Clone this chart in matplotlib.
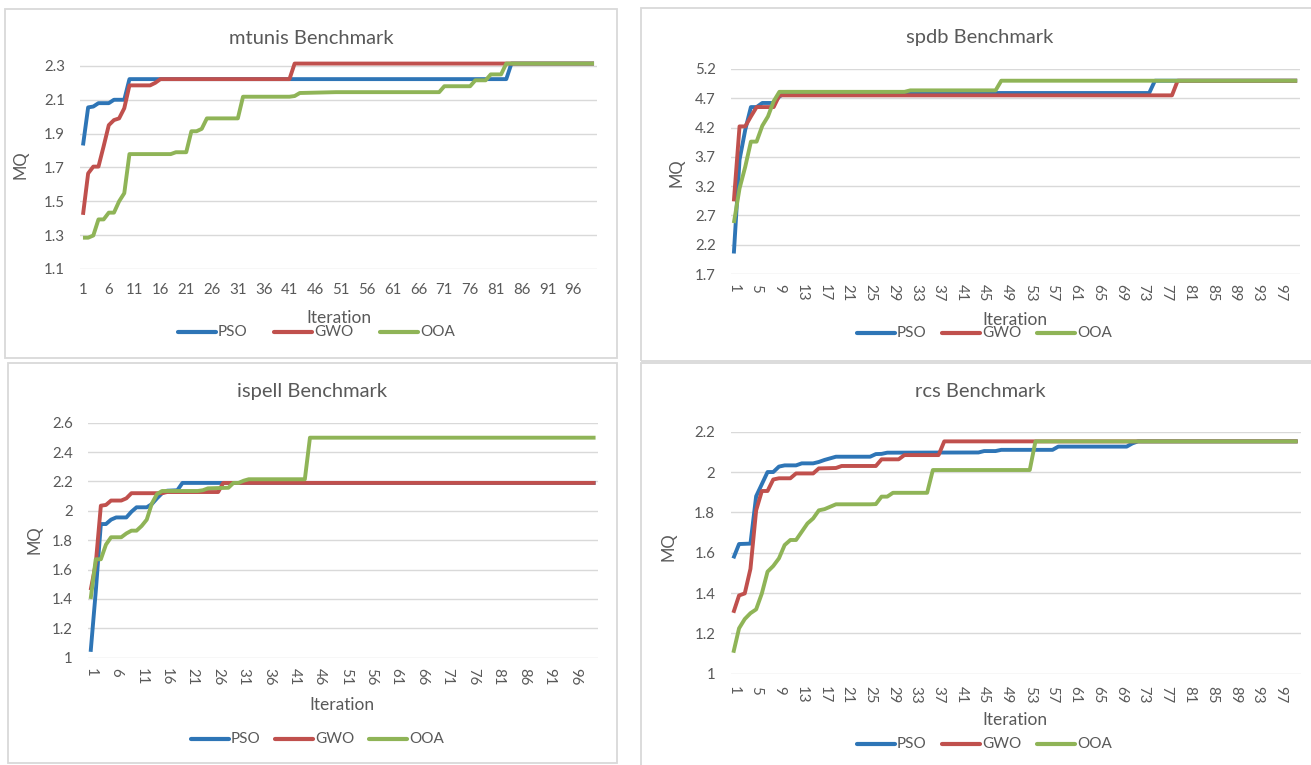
import matplotlib
matplotlib.use('Agg')
import matplotlib.pyplot as plt
from matplotlib.patches import Rectangle
from matplotlib.lines import Line2D

W, H = 1311, 765
plt.rcParams['font.family'] = ['Lato', 'DejaVu Sans']

series_names = ['PSO', 'GWO', 'OOA']
series_colors = ['#2e75b6', '#c0504d', '#8fb457']
text_gray = '#595959'
grid_gray = '#d9d9d9'

# ---- data: iteration where each vertex sits, and its MQ value ----
# mtunis
mtunis_pso_it = [1, 2, 3, 4, 6, 7, 9, 10, 83, 84, 100]
mtunis_pso_mq = [1.83, 2.055, 2.06, 2.08, 2.08, 2.10, 2.10, 2.222, 2.222, 2.314, 2.314]
mtunis_gwo_it = [1, 2, 3, 4, 5, 6, 7, 8, 9, 10, 14, 15, 16, 41, 42, 100]
mtunis_gwo_mq = [1.42, 1.665, 1.705, 1.705, 1.825, 1.95, 1.98, 1.99, 2.05, 2.185,
                 2.185, 2.20, 2.222, 2.222, 2.314, 2.314]
mtunis_ooa_it = [1, 2, 3, 4, 5, 6, 7, 8, 9, 10, 18, 19, 21, 22, 23, 24, 25, 31, 32,
                 41, 42, 43, 50, 70, 71, 76, 77, 79, 80, 82, 83, 100]
mtunis_ooa_mq = [1.285, 1.285, 1.298, 1.393, 1.393, 1.433, 1.433, 1.50, 1.548, 1.779,
                 1.779, 1.79, 1.79, 1.914, 1.914, 1.928, 1.99, 1.99, 2.118, 2.118,
                 2.122, 2.14, 2.145, 2.145, 2.18, 2.18, 2.215, 2.215, 2.25, 2.25,
                 2.314, 2.314]

# spdb
spdb_pso_it = [1, 2, 3, 4, 5, 6, 8, 9, 10, 74, 75, 100]
spdb_pso_mq = [2.05, 3.65, 4.16, 4.55, 4.55, 4.62, 4.62, 4.73, 4.79, 4.79, 5.0, 5.0]
spdb_gwo_it = [1, 2, 3, 4, 5, 8, 9, 78, 79, 100]
spdb_gwo_mq = [2.94, 4.22, 4.22, 4.39, 4.55, 4.55, 4.75, 4.75, 5.0, 5.0]
spdb_ooa_it = [1, 2, 3, 4, 5, 6, 7, 8, 9, 31, 32, 47, 48, 100]
spdb_ooa_mq = [2.57, 3.16, 3.53, 3.96, 3.96, 4.23, 4.39, 4.65, 4.81, 4.81, 4.835,
               4.835, 5.0, 5.0]

# ispell
ispell_pso_it = [1, 2, 3, 4, 5, 6, 8, 9, 10, 12, 13, 14, 15, 16, 18, 19, 100]
ispell_pso_mq = [1.04, 1.45, 1.91, 1.91, 1.94, 1.955, 1.955, 1.994, 2.024, 2.024,
                 2.046, 2.085, 2.12, 2.137, 2.14, 2.19, 2.19]
ispell_gwo_it = [1, 2, 3, 4, 5, 7, 8, 9, 15, 16, 26, 27, 100]
ispell_gwo_mq = [1.46, 1.64, 2.035, 2.04, 2.07, 2.07, 2.085, 2.12, 2.12, 2.128,
                 2.128, 2.19, 2.19]
ispell_ooa_it = [1, 2, 3, 4, 5, 7, 8, 9, 10, 11, 12, 13, 14, 15, 22, 23, 24, 28, 29,
                 30, 31, 32, 43, 44, 100]
ispell_ooa_mq = [1.40, 1.67, 1.67, 1.77, 1.82, 1.82, 1.846, 1.865, 1.865, 1.897,
                 1.94, 2.05, 2.114, 2.135, 2.135, 2.14, 2.153, 2.157, 2.19, 2.19,
                 2.205, 2.215, 2.215, 2.498, 2.498]

# rcs
rcs_pso_it = [1, 2, 4, 5, 6, 7, 8, 9, 10, 12, 13, 15, 16, 17, 18, 19, 25, 26, 27, 28,
              44, 45, 47, 48, 57, 58, 70, 71, 72, 100]
rcs_pso_mq = [1.572, 1.643, 1.645, 1.88, 1.94, 2.0, 2.0, 2.027, 2.033, 2.033, 2.043,
              2.043, 2.05, 2.06, 2.068, 2.076, 2.076, 2.089, 2.09, 2.096, 2.097,
              2.104, 2.104, 2.11, 2.11, 2.126, 2.126, 2.142, 2.152, 2.152]
rcs_gwo_it = [1, 2, 3, 4, 5, 6, 7, 8, 9, 11, 12, 15, 16, 19, 20, 26, 27, 30, 31, 37,
              38, 100]
rcs_gwo_mq = [1.302, 1.388, 1.398, 1.52, 1.81, 1.906, 1.906, 1.963, 1.969, 1.969,
              1.993, 1.993, 2.018, 2.02, 2.03, 2.03, 2.063, 2.063, 2.084, 2.084,
              2.152, 2.152]
rcs_ooa_it = [1, 2, 3, 4, 5, 6, 7, 8, 9, 10, 11, 12, 13, 14, 15, 16, 17, 18, 19, 25,
              26, 27, 28, 29, 35, 36, 53, 54, 100]
rcs_ooa_mq = [1.104, 1.225, 1.271, 1.30, 1.319, 1.398, 1.506, 1.534, 1.572, 1.638,
              1.663, 1.663, 1.704, 1.745, 1.77, 1.81, 1.816, 1.828, 1.84, 1.84,
              1.841, 1.878, 1.878, 1.897, 1.897, 2.01, 2.01, 2.152, 2.152]

mtunis_yticks = [1.1, 1.3, 1.5, 1.7, 1.9, 2.1, 2.3]
spdb_yticks = [1.7, 2.2, 2.7, 3.2, 3.7, 4.2, 4.7, 5.2]
ispell_yticks = [1, 1.2, 1.4, 1.6, 1.8, 2, 2.2, 2.4, 2.6]
rcs_yticks = [1, 1.2, 1.4, 1.6, 1.8, 2, 2.2]

# ---- layout, in pixels of the 1311x765 picture ----
panels = [
    dict(title='mtunis Benchmark', box=(5, 9, 617, 358), ax=(80.4, 596.6, 49, 269),
         ylim=(1.1, 2.4), yticks=mtunis_yticks, yfmt='{:.1f}', xstep=5, rot=0,
         xpad=10, title_xy=(311, 38), mq_xy=(21, 165), it_xy=(339, 318), leg_y=332,
         leg_x=(178, 274, 380),
         data=[(mtunis_pso_it, mtunis_pso_mq), (mtunis_gwo_it, mtunis_gwo_mq),
               (mtunis_ooa_it, mtunis_ooa_mq)]),
    dict(title='spdb Benchmark', box=(641, 8, 1330, 361), ax=(731, 1300, 69, 274),
         ylim=(1.7, 5.2), yticks=spdb_yticks, yfmt='{:.1f}', xstep=4, rot=270,
         xpad=7, title_xy=(980, 38), mq_xy=(677, 173), it_xy=(1015, 320), leg_y=333,
         leg_x=(857, 942, 1037),
         data=[(spdb_pso_it, spdb_pso_mq), (spdb_gwo_it, spdb_gwo_mq),
               (spdb_ooa_it, spdb_ooa_mq)]),
    dict(title='ispell Benchmark', box=(8, 363, 617, 763), ax=(88.1, 598.1, 422.7, 657.7),
         ylim=(1.0, 2.6), yticks=ispell_yticks, yfmt='{:g}', xstep=5, rot=270,
         xpad=7.5, title_xy=(312, 392), mq_xy=(34, 540), it_xy=(342, 705), leg_y=739,
         leg_x=(191, 275, 369),
         data=[(ispell_pso_it, ispell_pso_mq), (ispell_gwo_it, ispell_gwo_mq),
               (ispell_ooa_it, ispell_ooa_mq)]),
    dict(title='rcs Benchmark', box=(641, 363, 1330, 775), ax=(730.5, 1300.5, 431.7, 673.7),
         ylim=(1.0, 2.2), yticks=rcs_yticks, yfmt='{:g}', xstep=4, rot=270,
         xpad=8.5, title_xy=(980, 392), mq_xy=(668, 547), it_xy=(1015, 720), leg_y=744,
         leg_x=(857, 942, 1037),
         data=[(rcs_pso_it, rcs_pso_mq), (rcs_gwo_it, rcs_gwo_mq),
               (rcs_ooa_it, rcs_ooa_mq)]),
]

fig = plt.figure(figsize=(W / 100, H / 100), dpi=100)
fig.patch.set_facecolor('white')


def fx(x):
    return x / W


def fy(y):
    return 1 - y / H


for p in panels:
    x0, y0, x1, y1 = p['box']
    fig.patches.append(Rectangle((fx(x0), fy(y1)), (x1 - x0) / W, (y1 - y0) / H,
                                 transform=fig.transFigure, fill=False,
                                 edgecolor=grid_gray, linewidth=1.3))

    l, r, t, b = p['ax']
    ax = fig.add_axes([fx(l), fy(b), (r - l) / W, (b - t) / H])
    ax.set_facecolor('none')
    for (it, mq), c in zip(p['data'], series_colors):
        ax.plot(it, mq, color=c, linewidth=2.8, solid_joinstyle='round',
                solid_capstyle='butt', zorder=3)
    ax.set_xlim(0.5, 100.5)
    ax.set_ylim(*p['ylim'])
    ax.set_yticks(p['yticks'])
    ax.set_yticklabels([p['yfmt'].format(v) for v in p['yticks']])
    xt = list(range(1, 101, p['xstep']))
    ax.set_xticks(xt)
    if p['rot']:
        ax.set_xticklabels([str(v) for v in xt], rotation=270, ha='center', va='top')
    else:
        ax.set_xticklabels([str(v) for v in xt])
    ax.grid(axis='y', color=grid_gray, linewidth=1.0, zorder=0)
    ax.set_axisbelow(True)
    for s in ax.spines.values():
        s.set_visible(False)
    ax.tick_params(axis='both', length=0, labelsize=10.8, labelcolor=text_gray)
    ax.tick_params(axis='y', pad=11)
    ax.tick_params(axis='x', pad=p['xpad'])

    fig.text(fx(p['title_xy'][0]), fy(p['title_xy'][1]), p['title'], fontsize=14.5,
             color=text_gray, ha='center', va='center')
    fig.text(fx(p['mq_xy'][0]), fy(p['mq_xy'][1]), 'MQ', fontsize=12, rotation=90,
             color=text_gray, ha='center', va='center')
    fig.text(fx(p['it_xy'][0]), fy(p['it_xy'][1]), 'Iteration', fontsize=12.5,
             color=text_gray, ha='center', va='center')

    ly = fy(p['leg_y'])
    for name, c, lx in zip(series_names, series_colors, p['leg_x']):
        fig.lines.append(Line2D([fx(lx), fx(lx + 38)], [ly, ly], transform=fig.transFigure,
                                color=c, linewidth=3.0, solid_capstyle='round'))
        fig.text(fx(lx + 40), ly, name, fontsize=11, color=text_gray,
                 ha='left', va='center')

fig.savefig('out.png', dpi=100)
